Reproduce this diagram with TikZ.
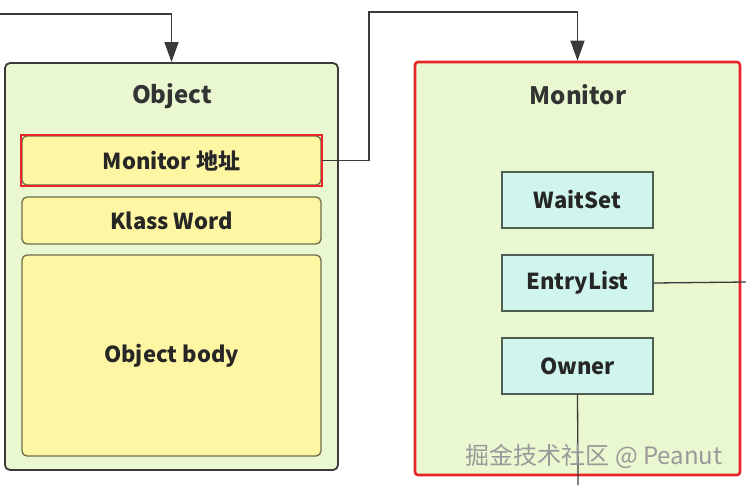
\documentclass[tikz,border=0pt]{standalone}
\usepackage{fontspec}
\setmainfont{Noto Sans CJK SC}
\newfontfamily\cjk{Noto Sans CJK SC}
\usetikzlibrary{arrows.meta}
\definecolor{outergreen}{HTML}{EAF8D2}
\definecolor{slotyellow}{HTML}{FEF6A2}
\definecolor{slotedge}{HTML}{6F6C48}
\definecolor{fieldcyan}{HTML}{CFF5EC}
\definecolor{fieldedge}{HTML}{4F5E52}
\definecolor{markred}{HTML}{E8262A}
\definecolor{linegray}{HTML}{3A3A3A}
\tikzset{
  holder/.style={draw=linegray, line width=1.8pt, fill=outergreen, rounded corners=5pt},
  slot/.style={draw=slotedge, line width=1.3pt, fill=slotyellow, rounded corners=5pt,
    font=\bfseries\fontsize{22}{26}\selectfont, text=black!85},
  field/.style={draw=fieldedge, line width=1.3pt, fill=fieldcyan,
    minimum width=151pt, minimum height=56pt, font=\bfseries\fontsize{22}{26}\selectfont, text=black!85},
  title/.style={font=\bfseries\fontsize{24}{28}\selectfont, text=black!80},
  link/.style={draw=linegray, line width=1.3pt},
  tolink/.style={link, -{Triangle[length=20pt,width=14pt]}}
}
\begin{document}
\begin{tikzpicture}[x=1pt,y=-1pt]
\useasboundingbox (0,0) rectangle (746,485);
% object side
\node[holder, minimum width=333pt, minimum height=407pt] (obj) at (171.5,266.5) {};
\node[title] (objtitle) at (172,96) {Object};
\node[slot, minimum width=299pt, minimum height=49pt] (addr) at (171.5,160.5) {Monitor 地址};
\draw[markred, line width=2.2pt] (addr.south west) rectangle (addr.north east);
\node[slot, minimum width=299pt, minimum height=47pt] (klass) at (171.5,220.5) {Klass Word};
\node[slot, minimum width=299pt, minimum height=201pt] (body) at (171.5,355.5) {Object body};
% monitor side
\node[holder, draw=markred, line width=2.6pt, rounded corners=3pt,
  minimum width=325pt, minimum height=413pt] (mon) at (577.5,268.5) {};
\node[title] (montitle) at (578,95) {Monitor};
\node[field] (waitset) at (577.5,200) {WaitSet};
\node[field] (entry) at (577.5,283) {EntryList};
\node[field] (owner) at (577.5,366) {Owner};
% connectors
\coordinate (in1) at (0,14);
\coordinate (bend) at (369,12);
\coordinate (out1) at (746,282);
\coordinate (out2) at (578,485);
\draw[tolink] (in1) -| (obj.north);
\draw[tolink] (addr.east) -| (bend) -| (mon.north);
\draw[link] (entry.east) -- (out1);
\draw[link] (owner.south) -- (out2);
\node[text=black!40, font=\fontsize{24}{28}\selectfont] (mark) at (594,456) {掘金技术社区 @ Peanut};
\end{tikzpicture}
\end{document}
